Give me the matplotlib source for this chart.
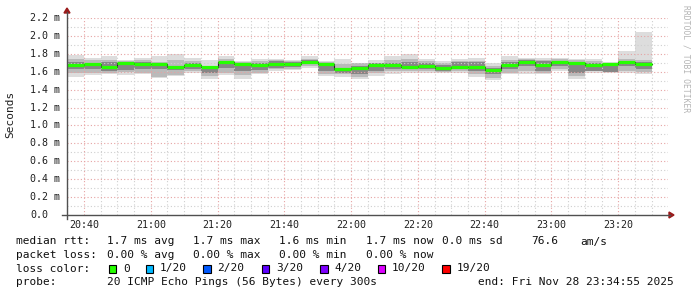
import matplotlib
matplotlib.use("Agg")
import matplotlib.pyplot as plt
from matplotlib.patches import Rectangle, Polygon

W, H = 697, 297

# 5 minute bins (start time), end of graph is 23:34:55
bin_times = ["20:35", "20:40", "20:45", "20:50", "20:55", "21:00", "21:05",
             "21:10", "21:15", "21:20", "21:25", "21:30", "21:35", "21:40",
             "21:45", "21:50", "21:55", "22:00", "22:05", "22:10", "22:15",
             "22:20", "22:25", "22:30", "22:35", "22:40", "22:45", "22:50",
             "22:55", "23:00", "23:05", "23:10", "23:15", "23:20", "23:25"]

# median rtt in ms
median_ms = [1.674, 1.685, 1.656, 1.693, 1.685, 1.685, 1.648, 1.670, 1.648,
             1.704, 1.685, 1.678, 1.685, 1.689, 1.711, 1.681, 1.626, 1.641,
             1.670, 1.674, 1.656, 1.667, 1.641, 1.656, 1.652, 1.622, 1.674,
             1.707, 1.674, 1.707, 1.700, 1.674, 1.689, 1.707, 1.689]

# smoke: full spread of the 20 pings
outer_hi = [1.785, 1.756, 1.774, 1.730, 1.756, 1.774, 1.793, 1.756, 1.730,
            1.774, 1.719, 1.744, 1.737, 1.730, 1.774, 1.719, 1.744, 1.700,
            1.730, 1.781, 1.793, 1.744, 1.719, 1.737, 1.756, 1.693, 1.781,
            1.756, 1.756, 1.756, 1.744, 1.744, 1.707, 1.830, 2.040]
outer_lo = [1.541, 1.559, 1.570, 1.559, 1.570, 1.533, 1.552, 1.589, 1.522,
            1.559, 1.522, 1.570, 1.607, 1.619, 1.644, 1.552, 1.541, 1.515,
            1.552, 1.570, 1.581, 1.589, 1.589, 1.589, 1.544, 1.507, 1.570,
            1.570, 1.570, 1.607, 1.522, 1.589, 1.589, 1.581, 1.570]
# middle pings
mid_hi = [1.737, 1.730, 1.730, 1.715, 1.730, 1.707, 1.730, 1.719, 1.663,
          1.737, 1.707, 1.719, 1.730, 1.715, 1.744, 1.707, 1.681, 1.693,
          1.700, 1.730, 1.737, 1.719, 1.700, 1.719, 1.719, 1.663, 1.730,
          1.737, 1.730, 1.737, 1.730, 1.719, 1.700, 1.737, 1.730]
mid_lo = [1.589, 1.589, 1.589, 1.596, 1.589, 1.544, 1.559, 1.607, 1.552,
          1.589, 1.559, 1.589, 1.626, 1.633, 1.663, 1.570, 1.570, 1.544,
          1.589, 1.607, 1.607, 1.607, 1.596, 1.607, 1.570, 1.533, 1.589,
          1.607, 1.589, 1.626, 1.552, 1.607, 1.596, 1.607, 1.596]
# pings closest to the median
core_hi = [1.707, 1.700, 1.707, 1.700, 1.707, 1.681, 1.663, 1.700, 1.644,
           1.719, 1.700, 1.700, 1.719, 1.707, 1.730, 1.700, 1.644, 1.663,
           1.693, 1.700, 1.707, 1.700, 1.670, 1.707, 1.707, 1.644, 1.707,
           1.730, 1.715, 1.719, 1.707, 1.693, 1.670, 1.719, 1.707]
core_lo = [1.626, 1.626, 1.607, 1.619, 1.626, 1.626, 1.619, 1.626, 1.589,
           1.644, 1.607, 1.619, 1.644, 1.656, 1.681, 1.607, 1.589, 1.570,
           1.607, 1.626, 1.626, 1.626, 1.607, 1.626, 1.607, 1.570, 1.626,
           1.663, 1.607, 1.663, 1.589, 1.607, 1.596, 1.663, 1.626]

y_ticks = [0.0, 0.2, 0.4, 0.6, 0.8, 1.0, 1.2, 1.4, 1.6, 1.8, 2.0, 2.2]
x_tick_labels = ["20:40", "21:00", "21:20", "21:40", "22:00",
                 "22:20", "22:40", "23:00", "23:20"]

loss_labels = ["0", "1/20", "2/20", "3/20", "4/20", "10/20", "19/20"]
loss_colors = ["#26ff00", "#00b8ff", "#0059ff", "#5e00ff", "#7e00ff",
               "#dd00ff", "#ff0000"]


def to_min(t):
    h, m = t.split(":")
    return int(h) * 60 + int(m) - 20 * 60


def fx(x):
    return x / W


def fy(y):
    return 1 - y / H


MONO = "DejaVu Sans Mono"
plt.rcParams["font.family"] = MONO

fig = plt.figure(figsize=(W / 100, H / 100), dpi=100)
fig.patch.set_facecolor("white")
ax = fig.add_axes([fx(67), fy(215), (668 - 67) / W, (215 - 18) / H])
ax.set_facecolor("white")

x0 = to_min("20:34") + 55 / 60
x1 = x0 + 180
ax.set_xlim(x0, x1)
ax.set_ylim(0, 2.2)

starts = [to_min(t) for t in bin_times]
edges = starts + [starts[-1] + 5]


def ext(v):
    return list(v) + [v[-1]]


ax.fill_between(edges, ext(outer_lo), ext(outer_hi), step="post",
                color="#dddddd", lw=0, zorder=1)
ax.fill_between(edges, ext(mid_lo), ext(mid_hi), step="post",
                color="#bababa", lw=0, zorder=1.1)
ax.fill_between(edges, ext(core_lo), ext(core_hi), step="post",
                color="#868686", lw=0, zorder=1.2)

ax.step(edges, ext(median_ms), where="post", color="#202020", lw=0.8, zorder=3)
ax.hlines(median_ms, starts, [s + 5 for s in starts], color=loss_colors[0],
          lw=2.3, zorder=3.2)

# grid
major_x = [to_min(t) for t in x_tick_labels]
minor_x = [m for m in range(35, 215, 5) if m not in major_x]
dots = (0, (1, 2))
for m in minor_x:
    ax.axvline(m, color="#cfcfcf", lw=0.8, ls=dots, zorder=2.5)
for m in major_x:
    ax.axvline(m, color="#e6a3a3", lw=0.8, ls=dots, zorder=2.6)
for v in y_ticks[1:]:
    ax.axhline(v, color="#e6a3a3", lw=0.8, ls=dots, zorder=2.6)
    ax.axhline(v - 0.1, color="#cfcfcf", lw=0.8, ls=dots, zorder=2.5)

for s in ax.spines.values():
    s.set_visible(False)
ax.set_xticks([])
ax.set_yticks([])

# axes with arrows (drawn in pixels)
axis_col = "#505050"
arrow_col = "#9a1a1a"
fig.add_artist(plt.Line2D([fx(62), fx(670)], [fy(215), fy(215)],
                          color=axis_col, lw=1.0))
fig.add_artist(plt.Line2D([fx(67), fx(67)], [fy(219), fy(12)],
                          color=axis_col, lw=1.0))
fig.add_artist(Polygon([(fx(669), fy(212)), (fx(669), fy(218)), (fx(674), fy(215))],
                       closed=True, color=arrow_col, transform=fig.transFigure))
fig.add_artist(Polygon([(fx(64), fy(13)), (fx(70), fy(13)), (fx(67), fy(8))],
                       closed=True, color=arrow_col, transform=fig.transFigure))

# tick labels
yax = ax.get_yaxis_transform()
for v in y_ticks:
    lab = "%.1f m" % v if v > 0 else "0.0"
    ax.text(-(67 - 30.5) / 601, v, lab, transform=yax, ha="left", va="center",
            fontsize=7.2, color="#202020", clip_on=False)
xax = ax.get_xaxis_transform()
for t in x_tick_labels:
    ax.text(to_min(t), -(225 - 215) / 197, t, transform=xax, ha="center",
            va="center", fontsize=7.2, color="#202020", clip_on=False)

fig.text(fx(10.5), fy(114), "Seconds", rotation=90, ha="center", va="center",
         fontsize=8, color="#202020")
fig.text(fx(686), fy(5), "RRDTOOL / TOBI OETIKER", rotation=-90, ha="center",
         va="top", fontsize=5.8, color="#b4b4b4")

# legend
fs = 8.0
tc = "#101010"
row1 = [(16, "median rtt:"), (107, "1.7 ms avg"), (193, "1.7 ms max"),
        (279, "1.6 ms min"), (366, "1.7 ms now"), (442, "0.0 ms sd"),
        (531, "76.6"), (580, "am/s")]
row2 = [(16, "packet loss:"), (107, "0.00 % avg"), (193, "0.00 % max"),
        (279, "0.00 % min"), (366, "0.00 % now")]
for x, s in row1:
    fig.text(fx(x), fy(241.5), s, ha="left", va="center", fontsize=fs, color=tc)
for x, s in row2:
    fig.text(fx(x), fy(255), s, ha="left", va="center", fontsize=fs, color=tc)

fig.text(fx(16), fy(268.5), "loss color:", ha="left", va="center", fontsize=fs, color=tc)
box_x = [108.7, 145.7, 203, 261.7, 320, 377.7, 442.3]
for bx, lab, col in zip(box_x, loss_labels, loss_colors):
    fig.add_artist(Rectangle((fx(bx), fy(273)), 7.5 / W, 8 / H, facecolor=col,
                             edgecolor="black", lw=0.8, transform=fig.transFigure))
    fig.text(fx(bx + 14.5), fy(268.5), lab, ha="left", va="center",
             fontsize=fs, color=tc)

fig.text(fx(16), fy(282), "probe:", ha="left", va="center", fontsize=fs, color=tc)
fig.text(fx(107), fy(282), "20 ICMP Echo Pings (56 Bytes) every 300s",
         ha="left", va="center", fontsize=fs, color=tc)
fig.text(fx(478.3), fy(282), "end: Fri Nov 28 23:34:55 2025",
         ha="left", va="center", fontsize=fs, color=tc)

fig.savefig("out.png", dpi=100, facecolor="white")
